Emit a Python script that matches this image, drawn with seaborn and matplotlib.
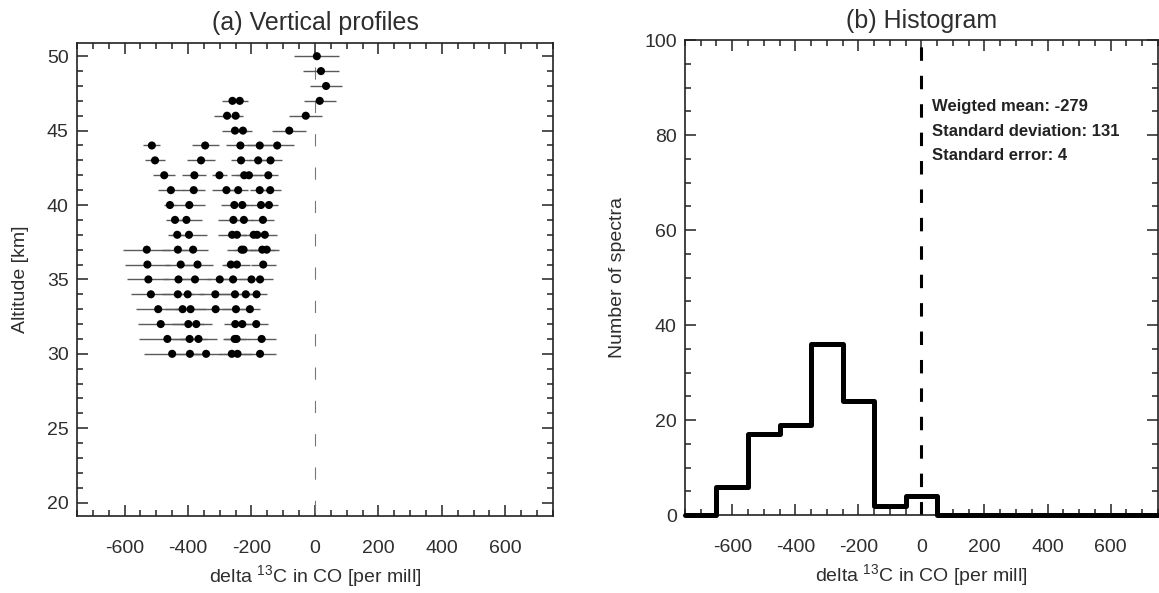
import numpy as np
import pandas as pd
import matplotlib
matplotlib.use("Agg")
from matplotlib import pyplot as plt
from matplotlib.ticker import MultipleLocator
import seaborn as sns

# (a) delta 13C retrieved at each altitude level (one entry per profile) + errors
alt_levels = [50, 49, 48, 47, 46, 45, 44, 43, 42, 41, 40,
              39, 38, 37, 36, 35, 34, 33, 32, 31, 30]
delta_vals = [
    [6],
    [19],
    [35],
    [-260, -237, 15],
    [-277, -250, -29],
    [-252, -227, -81],
    [-514, -346, -235, -174, -119],
    [-504, -359, -233, -179, -140],
    [-475, -380, -301, -223, -208, -147],
    [-454, -382, -279, -242, -174, -141],
    [-457, -396, -254, -229, -170, -145],
    [-441, -405, -257, -224, -164],
    [-434, -397, -261, -246, -193, -182, -158],
    [-530, -432, -384, -231, -225, -166, -152],
    [-528, -423, -370, -265, -246, -163],
    [-525, -430, -378, -300, -258, -200, -173],
    [-517, -432, -401, -314, -252, -218, -184],
    [-494, -417, -392, -313, -249, -205],
    [-486, -399, -374, -251, -229, -185],
    [-465, -395, -367, -253, -247, -168],
    [-450, -394, -343, -262, -244, -173],
]
delta_errs = [
    [71],
    [56],
    [51],
    [32, 25, 50],
    [42, 22, 52],
    [42, 30, 54],
    [27, 43, 45, 40, 53],
    [32, 44, 30, 30, 37],
    [35, 38, 25, 40, 40, 31],
    [40, 35, 47, 30, 30, 35],
    [18, 49, 42, 30, 30, 27],
    [29, 48, 50, 30, 36],
    [30, 56, 44, 30, 30, 30, 37],
    [74, 50, 48, 45, 30, 40, 40],
    [70, 50, 48, 29, 40, 39],
    [66, 50, 50, 40, 40, 40, 40],
    [62, 50, 50, 50, 50, 45, 32],
    [70, 55, 50, 50, 45, 32],
    [71, 50, 48, 35, 40, 36],
    [90, 55, 58, 36, 40, 44],
    [89, 55, 50, 40, 45, 50],
]

# (b) histogram of all retrievals (bin centres, counts)
hist_centers = [-600, -500, -400, -300, -200, -100, 0]
hist_counts = [6, 17, 19, 36, 24, 2, 4]

stats_lines = ["Weigted mean: -279", "Standard deviation: 131", "Standard error: 4"]

rows = []
for alt, vals, errs in zip(alt_levels, delta_vals, delta_errs):
    for v, e in zip(vals, errs):
        rows.append({"alt": alt, "delta": v, "err": e})
prof_df = pd.DataFrame(rows)
hist_df = pd.DataFrame({"delta": hist_centers, "count": hist_counts})

sns.set_style("ticks")
plt.rcParams["font.family"] = ["Liberation Sans", "DejaVu Sans"]
plt.rcParams["mathtext.default"] = "regular"
plt.rcParams["axes.unicode_minus"] = False
txt_col = "#2e2e2e"

fig = plt.figure(figsize=(11.59, 5.93), dpi=100)
ax1 = fig.add_axes([0.0664, 0.1298, 0.4107, 0.798])
ax2 = fig.add_axes([0.5910, 0.1315, 0.4080, 0.801])

xlabel = r"delta $^{13}$C in CO [per mill]"

# ---- (a) vertical profiles
ax1.errorbar(prof_df["delta"], prof_df["alt"], xerr=prof_df["err"], fmt="none",
             ecolor="#5a5a5a", elinewidth=1.0, capsize=0, zorder=2)
sns.scatterplot(data=prof_df, x="delta", y="alt", color="black", s=34,
                edgecolor="none", ax=ax1, zorder=3)
ax1.plot([0, 0], [49.3, 19.1], color="#777777", lw=0.8,
         linestyle=(0, (11, 19)), zorder=1)
ax1.set_xlim(-750, 750)
ax1.set_ylim(19.1, 50.9)
ax1.xaxis.set_major_locator(MultipleLocator(200))
ax1.xaxis.set_minor_locator(MultipleLocator(50))
ax1.yaxis.set_major_locator(MultipleLocator(5))
ax1.yaxis.set_minor_locator(MultipleLocator(1))
ax1.set_title("(a) Vertical profiles", fontsize=18, color=txt_col, pad=9)
ax1.set_xlabel(xlabel, fontsize=14, color=txt_col, labelpad=5)
ax1.set_ylabel("Altitude [km]", fontsize=14, color=txt_col, labelpad=13)

# ---- (b) histogram
sns.histplot(data=hist_df, x="delta", weights="count", binwidth=100,
             binrange=(-750, 750), element="step", fill=False, color="black",
             linewidth=3.6, ax=ax2, clip_on=False, zorder=3)
ax2.axvline(0, color="black", lw=2.2, linestyle=(0, (4.4, 4.9)), zorder=2)
for i, line in enumerate(stats_lines):
    ax2.text(35, [86, 80.8, 75.7][i], line, fontsize=12, fontweight="bold",
             color="#222222", va="center", ha="left")
ax2.set_xlim(-750, 750)
ax2.set_ylim(0, 100)
ax2.xaxis.set_major_locator(MultipleLocator(200))
ax2.xaxis.set_minor_locator(MultipleLocator(50))
ax2.yaxis.set_major_locator(MultipleLocator(20))
ax2.yaxis.set_minor_locator(MultipleLocator(5))
ax2.set_title("(b) Histogram", fontsize=18, color=txt_col, pad=9)
ax2.set_xlabel(xlabel, fontsize=14, color=txt_col, labelpad=5)
ax2.set_ylabel("Number of spectra", fontsize=14, color=txt_col, labelpad=13)

for ax in (ax1, ax2):
    for sp in ax.spines.values():
        sp.set_visible(True)
        sp.set_linewidth(1.2)
        sp.set_color("#222222")
    ax.tick_params(which="both", direction="in", top=True, right=True,
                   width=1.1, color="#222222", labelsize=14, labelcolor=txt_col)
    ax.tick_params(axis="x", which="both", pad=17)
    ax.tick_params(axis="y", which="both", pad=6)
    ax.tick_params(which="major", length=8)
    ax.tick_params(which="minor", length=4)

fig.savefig("out.png", dpi=100)
